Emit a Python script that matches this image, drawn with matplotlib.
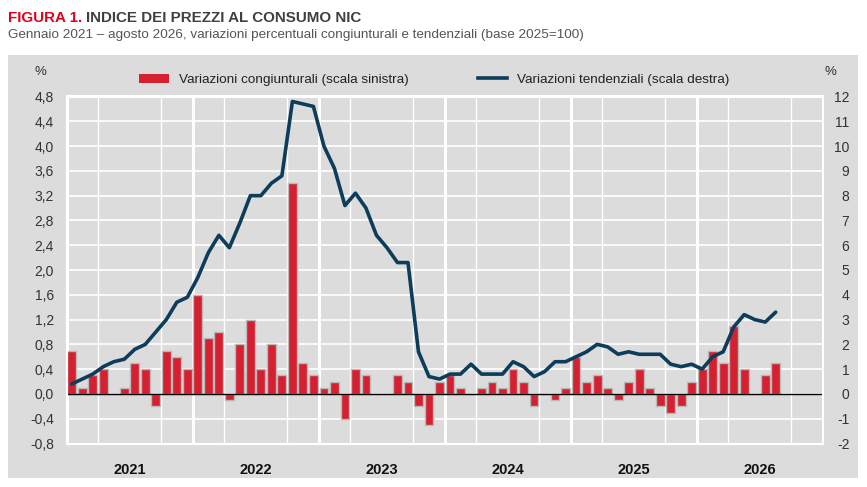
import numpy as np
import matplotlib
matplotlib.use("Agg")
import matplotlib.pyplot as plt
from matplotlib.patches import Rectangle, Patch
from matplotlib.lines import Line2D

plt.rcParams['font.family'] = ['Liberation Sans', 'DejaVu Sans']

# Data: January 2021 - August 2026
years = ['2021', '2022', '2023', '2024', '2025', '2026']

# monthly change, % (left scale)
congiunturali = [
    0.7, 0.1, 0.3, 0.4, 0.0, 0.1, 0.5, 0.4, -0.2, 0.7, 0.6, 0.4,
    1.6, 0.9, 1.0, -0.1, 0.8, 1.2, 0.4, 0.8, 0.3, 3.4, 0.5, 0.3,
    0.1, 0.2, -0.4, 0.4, 0.3, 0.0, 0.0, 0.3, 0.2, -0.2, -0.5, 0.2,
    0.3, 0.1, 0.0, 0.1, 0.2, 0.1, 0.4, 0.2, -0.2, 0.0, -0.1, 0.1,
    0.6, 0.2, 0.3, 0.1, -0.1, 0.2, 0.4, 0.1, -0.2, -0.3, -0.2, 0.2,
    0.4, 0.7, 0.5, 1.1, 0.4, 0.0, 0.3, 0.5,
]

# annual change, % (right scale)
tendenziali = [
    0.4, 0.6, 0.8, 1.1, 1.3, 1.4, 1.8, 2.0, 2.5, 3.0, 3.7, 3.9,
    4.7, 5.7, 6.4, 5.9, 6.9, 8.0, 8.0, 8.5, 8.8, 11.8, 11.7, 11.6,
    10.0, 9.1, 7.6, 8.1, 7.5, 6.4, 5.9, 5.3, 5.3, 1.7, 0.7, 0.6,
    0.8, 0.8, 1.2, 0.8, 0.8, 0.8, 1.3, 1.1, 0.7, 0.9, 1.3, 1.3,
    1.5, 1.7, 2.0, 1.9, 1.6, 1.7, 1.6, 1.6, 1.6, 1.2, 1.1, 1.2,
    1.0, 1.5, 1.7, 2.7, 3.2, 3.0, 2.9, 3.3,
]

left_ticks = np.arange(-0.8, 4.81, 0.4)
right_ticks = np.arange(-2, 13, 1)

red = '#d42030'
blue = '#0d3d5a'
panel = '#dcdcdc'

W, H = 867, 487
fig = plt.figure(figsize=(W / 100, H / 100), dpi=100)
fig.patch.set_facecolor('white')

# grey panel behind the chart
fig.patches.append(Rectangle((8 / W, 1 - 478 / H), 850 / W, 423 / H,
                             transform=fig.transFigure, facecolor=panel,
                             edgecolor='none', zorder=-10))

ax = fig.add_axes([66.5 / W, 1 - 443.5 / H, (823 - 66.5) / W, (443.5 - 96.5) / H])
ax.set_facecolor(panel)
ax2 = ax.twinx()

n_months = len(years) * 12
x = np.arange(len(congiunturali)) + 0.5

ax.bar(x, congiunturali, width=0.84, color=red, edgecolor='#b9b9b9',
       linewidth=1.0, zorder=3)
ax.axhline(0, color='black', linewidth=1.0, zorder=4)

ax2.plot(x, tendenziali, color=blue, linewidth=2.6, solid_capstyle='round',
         solid_joinstyle='round', zorder=5)

ax.set_xlim(0, n_months)
ax.set_ylim(left_ticks[0], left_ticks[-1])
ax2.set_ylim(right_ticks[0], right_ticks[-1])

ax.set_yticks(left_ticks)
ax.set_yticklabels([f"{v:.1f}".replace('.', ',').replace('-0,0', '0,0') for v in left_ticks])
ax2.set_yticks(right_ticks)
ax2.set_yticklabels([str(v) for v in right_ticks], ha='right')

# year labels in the middle of each year, grid on quarters
ax.set_xticks(np.arange(len(years)) * 12 + 6)
ax.set_xticklabels(years, fontweight='bold', fontsize=10.5, color='#111111')
ax.set_xticks(np.arange(0, n_months + 1, 3), minor=True)
ax.tick_params(axis='x', which='both', length=0, pad=14)
ax.tick_params(axis='y', length=0, pad=9, labelsize=10, labelcolor='#333333')
ax2.tick_params(axis='y', length=0, pad=19, labelsize=10, labelcolor='#333333')

ax.grid(axis='y', color='white', linewidth=1.2, zorder=1)
ax.grid(axis='x', which='minor', color='white', linewidth=1.0, zorder=1)
ax.grid(axis='x', which='major', visible=False)
for k in range(len(years) + 1):
    ax.axvline(k * 12, color='white', linewidth=2.2, zorder=1)
ax.set_axisbelow(True)

for a in (ax, ax2):
    for s in a.spines.values():
        s.set_color('white')
        s.set_linewidth(1.5)

# % labels
fig.text(40 / W, 1 - 72 / H, '%', fontsize=9.5, color='#333333', ha='center', va='center')
fig.text(830 / W, 1 - 72 / H, '%', fontsize=9.5, color='#333333', ha='center', va='center')

# legend
handles = [Patch(facecolor=red, edgecolor='none'),
           Line2D([0], [0], color=blue, linewidth=2.6)]
labels = ['Variazioni congiunturali (scala sinistra)',
          'Variazioni tendenziali (scala destra)']
fig.legend(handles, labels, loc='center', bbox_to_anchor=(434.5 / W, 1 - 80 / H),
           ncol=2, frameon=False, fontsize=9.7, handlelength=2.2,
           handleheight=0.6, columnspacing=5.1, handletextpad=0.74,
           labelcolor='#222222', borderpad=0, borderaxespad=0)

# title
renderer = fig.canvas.get_renderer()
t1 = fig.text(8 / W, 1 - 17.5 / H, 'FIGURA 1.', fontsize=10.9, fontweight='bold',
              color='#e2001a', va='center', ha='left')
bb = t1.get_window_extent(renderer)
fig.text((bb.x1 + 4) / W, 1 - 17.5 / H, 'INDICE DEI PREZZI AL CONSUMO NIC',
         fontsize=10.9, fontweight='bold', color='#404040', va='center', ha='left')
fig.text(8 / W, 1 - 35 / H,
         'Gennaio 2021 \u2013 agosto 2026, variazioni percentuali congiunturali e tendenziali (base 2025=100)',
         fontsize=9.7, color='#555555', va='center', ha='left')

fig.savefig('out.png', dpi=100, facecolor=fig.get_facecolor())
